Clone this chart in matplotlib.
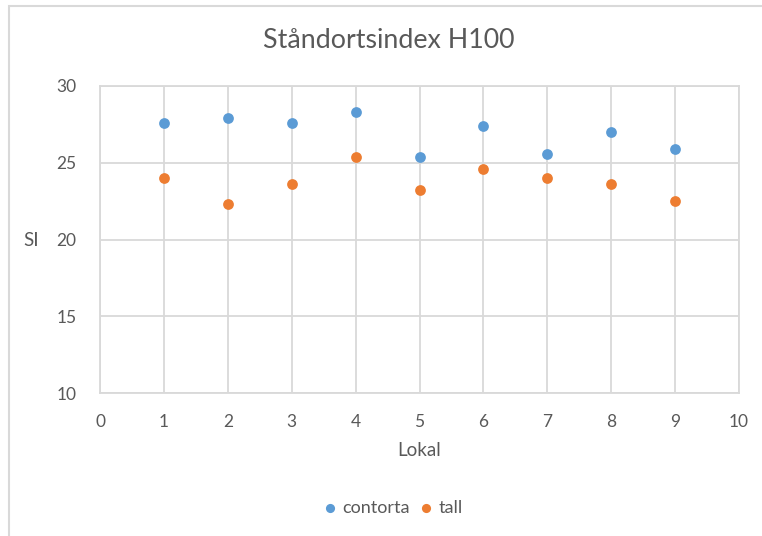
import matplotlib.pyplot as plt
from matplotlib.patches import Rectangle

plt.rcParams['font.family'] = ['Lato', 'DejaVu Sans']

lokal = [1, 2, 3, 4, 5, 6, 7, 8, 9]
contorta = [27.6, 27.9, 27.6, 28.3, 25.4, 27.4, 25.6, 27.0, 25.9]
tall = [24.0, 22.3, 23.6, 25.4, 23.2, 24.6, 24.0, 23.6, 22.5]

xticks = list(range(0, 11))
yticks = [10, 15, 20, 25, 30]

blue = '#5B9BD5'
orange = '#ED7D31'
grid_c = '#D9D9D9'
text_c = '#595959'

W, H = 762, 536
fig = plt.figure(figsize=(W/100, H/100), dpi=100)
ax = fig.add_axes([100/W, 1 - 393/H, 639/W, 307/H])

# chart frame
fig.patches.append(Rectangle((9/W, -0.1), 1.2, 1 - 6/H + 0.1,
                             transform=fig.transFigure, fill=False,
                             edgecolor=grid_c, linewidth=1.5))

ax.scatter(lokal, contorta, s=60, color=blue, label='contorta', zorder=3, linewidths=0)
ax.scatter(lokal, tall, s=60, color=orange, label='tall', zorder=3, linewidths=0)

ax.set_xlim(0, 10)
ax.set_ylim(10, 30)
ax.set_xticks(xticks)
ax.set_yticks(yticks)
ax.grid(True, color=grid_c, linewidth=1.3)
ax.set_axisbelow(True)
for s in ax.spines.values():
    s.set_color(grid_c)
    s.set_linewidth(1.3)
ax.tick_params(length=0, labelsize=12.5, labelcolor=text_c)
ax.tick_params(axis='x', pad=15)
ax.tick_params(axis='y', pad=17)

fig.text(389/W, 1 - 40/H, 'Ståndortsindex H100', fontsize=19.3, color=text_c,
         ha='center', va='center')
fig.text(419/W, 1 - 451/H, 'Lokal', fontsize=13.5, color=text_c,
         ha='center', va='center')
fig.text(31/W, 1 - 241/H, 'SI', fontsize=13.5, color=text_c,
         ha='center', va='center')

ax.legend(loc='center', bbox_to_anchor=(393/W, 1 - 508/H),
          bbox_transform=fig.transFigure, ncol=2, frameon=False,
          fontsize=13, labelcolor=text_c, handlelength=0.8, handletextpad=0.3,
          columnspacing=0.5, markerscale=0.85)

fig.savefig('out.png', dpi=100)
